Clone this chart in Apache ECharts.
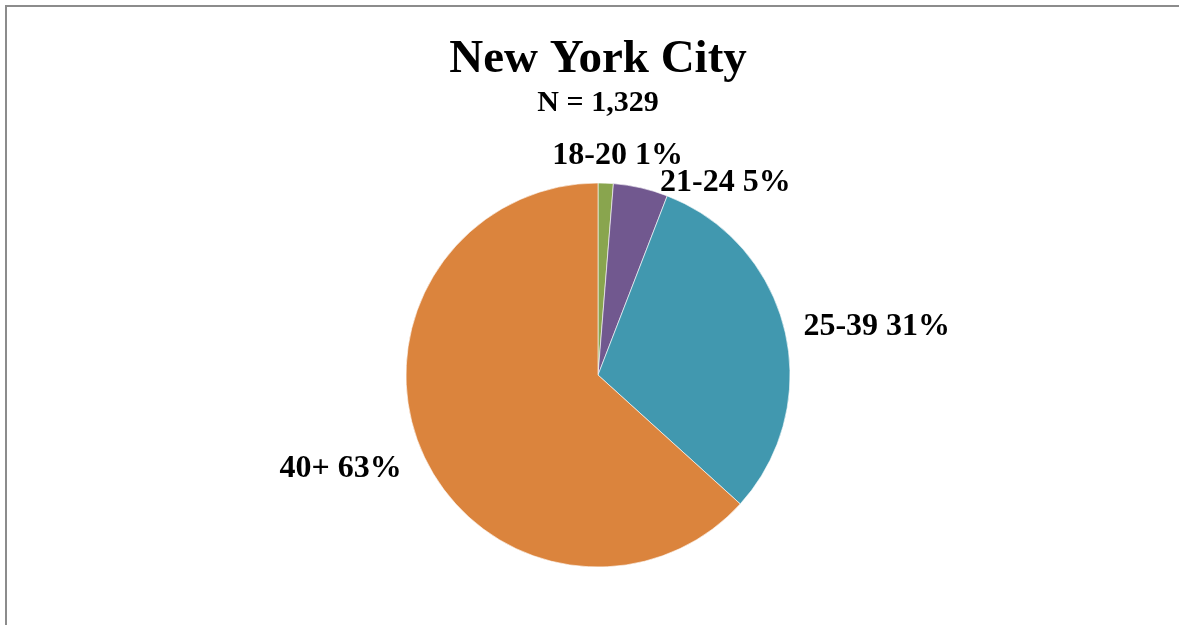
<!DOCTYPE html>
<html>
<head>
<meta charset="utf-8">
<script src="https://cdn.jsdelivr.net/npm/echarts@6/dist/echarts.min.js"></script>
<style>
  html, body { margin: 0; padding: 0; background: #fff; }
  #chart { width: 1179px; height: 625px; }
</style>
</head>
<body>
<div id="chart"></div>
<script>
// age groups and respondent counts (N = 1,329)
var categories = ["18-20", "21-24", "25-39", "40+"];
var counts = [17, 61, 410, 841];
var colors = ["#89A54E", "#71588F", "#4198AF", "#DB843D"];
var titleText = "New York City";
var subText = "N = 1,329";

var serif = "'Liberation Serif', 'Times New Roman', serif";
// small nudges so labels sit where the original put them
var labelNudge = [[-59, -12], [11, 10], [-1, -1], [-2, 10]];

var chart = echarts.init(document.getElementById("chart"));
chart.setOption({
  backgroundColor: "#fff",
  animation: false,
  title: {
    text: titleText,
    subtext: subText,
    left: 598,
    top: 36,
    textAlign: "center",
    itemGap: 5,
    padding: 0,
    textStyle: {
      fontFamily: serif,
      fontWeight: "bold",
      fontSize: 47,
      color: "#000"
    },
    subtextStyle: {
      fontFamily: serif,
      fontWeight: "bold",
      fontSize: 30,
      color: "#000"
    }
  },
  graphic: [{
    type: "rect",
    shape: { x: 6, y: 6, width: 1300, height: 700 },
    style: { fill: "none", stroke: "#8c8c8c", lineWidth: 2 },
    silent: true
  }],
  series: [{
    type: "pie",
    center: [598, 375],
    radius: 192,
    startAngle: 90,
    clockwise: true,
    avoidLabelOverlap: false,
    itemStyle: {
      borderColor: "rgba(255,255,255,0.6)",
      borderWidth: 1
    },
    label: {
      show: true,
      position: "outside",
      fontFamily: serif,
      fontWeight: "bold",
      fontSize: 32,
      color: "#000",
      formatter: function (p) {
        return p.name + " " + Math.round(p.percent) + "%";
      }
    },
    labelLine: { show: false, length: 15, length2: 0 },
    labelLayout: function (p) {
      var n = labelNudge[p.dataIndex];
      return { dx: n[0], dy: n[1] };
    },
    emphasis: { disabled: true },
    data: categories.map(function (c, i) {
      return { name: c, value: counts[i], itemStyle: { color: colors[i] } };
    })
  }]
});
</script>
</body>
</html>
